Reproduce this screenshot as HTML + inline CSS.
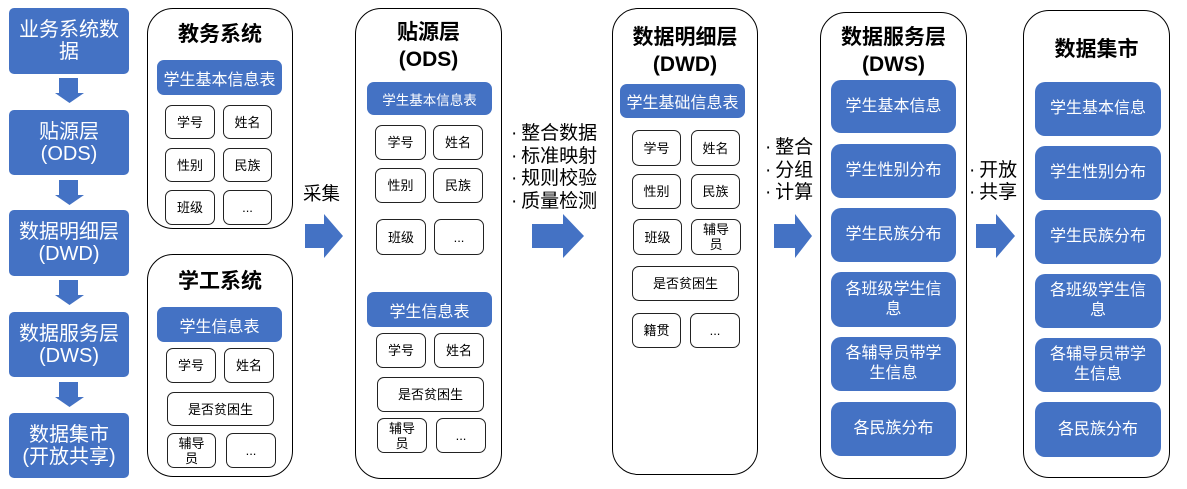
<!DOCTYPE html>
<html><head><meta charset="utf-8">
<style>
*{margin:0;padding:0;box-sizing:border-box}
body{width:1187px;height:489px;background:#fff;position:relative;overflow:hidden;font-family:"Liberation Sans","Noto Sans CJK SC",sans-serif;color:#000}
.a{position:absolute}
.b{position:absolute;background:#4472C4;color:#fff;display:flex;align-items:center;justify-content:center;text-align:center}
.L{border-radius:5px;font-size:20px;line-height:22px}
.H{border-radius:7px;font-size:16px}
.D{border-radius:10px;font-size:16px;line-height:20px}
.o{position:absolute;border:1.6px solid #000;border-radius:26px}
.s{position:absolute;border:1.5px solid #222;border-radius:7px;display:flex;align-items:center;justify-content:center;text-align:center;font-size:13px;line-height:15px}
.t{position:absolute;font-weight:bold;font-size:21px;text-align:center;line-height:27px}
.m{position:absolute;font-size:19px;line-height:22.5px;white-space:nowrap}
</style></head><body>

<!-- left column -->
<div class="b L" style="left:9px;top:8px;width:120px;height:66px">业务系统数<br>据</div>
<div class="b L" style="left:9px;top:110px;width:120px;height:65px">贴源层<br>(ODS)</div>
<div class="b L" style="left:9px;top:210px;width:120px;height:66px">数据明细层<br>(DWD)</div>
<div class="b L" style="left:9px;top:312px;width:120px;height:65px">数据服务层<br>(DWS)</div>
<div class="b L" style="left:9px;top:413px;width:120px;height:65px">数据集市<br>(开放共享)</div>

<svg class="a" style="left:0;top:0" width="1187" height="489">
<g fill="#4472C4">
<polygon points="59,78 78,78 78,93 84,93 69.5,103 55,93 59,93"/>
<polygon points="59,180 78,180 78,195 84,195 69.5,205 55,195 59,195"/>
<polygon points="59,280 78,280 78,295 84,295 69.5,305 55,295 59,295"/>
<polygon points="59,382 78,382 78,397 84,397 69.5,407 55,397 59,397"/>
<polygon points="305,224 324,224 324,214 343,236 324,258 324,248 305,248"/>
<polygon points="532,224 563,224 563,214 584,236 563,258 563,248 532,248"/>
<polygon points="774,224 795,224 795,214 812,236 795,258 795,248 774,248"/>
<polygon points="976,224 996,224 996,214 1015,236 996,258 996,248 976,248"/>
</g>
</svg>

<!-- 教务系统 -->
<div class="o" style="left:147px;top:8px;width:146px;height:221px"></div>
<div class="t" style="left:147px;top:21px;width:146px">教务系统</div>
<div class="b H" style="left:157px;top:60px;width:125px;height:35px">学生基本信息表</div>
<div class="s" style="left:165px;top:105px;width:50px;height:34px">学号</div>
<div class="s" style="left:223px;top:105px;width:49px;height:34px">姓名</div>
<div class="s" style="left:165px;top:148px;width:50px;height:34px">性别</div>
<div class="s" style="left:223px;top:148px;width:49px;height:34px">民族</div>
<div class="s" style="left:165px;top:190px;width:50px;height:35px">班级</div>
<div class="s" style="left:223px;top:190px;width:49px;height:35px">...</div>

<!-- 学工系统 -->
<div class="o" style="left:147px;top:254px;width:146px;height:223px"></div>
<div class="t" style="left:147px;top:268px;width:146px">学工系统</div>
<div class="b H" style="left:157px;top:307px;width:125px;height:35px">学生信息表</div>
<div class="s" style="left:166px;top:348px;width:50px;height:35px">学号</div>
<div class="s" style="left:224px;top:348px;width:50px;height:35px">姓名</div>
<div class="s" style="left:167px;top:392px;width:107px;height:34px">是否贫困生</div>
<div class="s" style="left:167px;top:433px;width:49px;height:35px">辅导<br>员</div>
<div class="s" style="left:226px;top:433px;width:50px;height:35px">...</div>

<div class="m" style="left:303px;top:183px;font-size:18.5px">采集</div>

<!-- ODS -->
<div class="o" style="left:355px;top:8px;width:147px;height:471px"></div>
<div class="t" style="left:355px;top:19px;width:147px">贴源层<br>(ODS)</div>
<div class="b H" style="left:367px;top:82px;width:125px;height:33px;font-size:13.5px">学生基本信息表</div>
<div class="s" style="left:375px;top:125px;width:51px;height:35px">学号</div>
<div class="s" style="left:433px;top:125px;width:50px;height:35px">姓名</div>
<div class="s" style="left:375px;top:168px;width:51px;height:35px">性别</div>
<div class="s" style="left:433px;top:168px;width:50px;height:35px">民族</div>
<div class="s" style="left:376px;top:219px;width:50px;height:36px">班级</div>
<div class="s" style="left:434px;top:219px;width:50px;height:36px">...</div>
<div class="b H" style="left:367px;top:292px;width:125px;height:35px">学生信息表</div>
<div class="s" style="left:376px;top:333px;width:50px;height:35px">学号</div>
<div class="s" style="left:434px;top:333px;width:50px;height:35px">姓名</div>
<div class="s" style="left:377px;top:377px;width:107px;height:35px">是否贫困生</div>
<div class="s" style="left:377px;top:418px;width:50px;height:35px">辅导<br>员</div>
<div class="s" style="left:436px;top:418px;width:50px;height:35px">...</div>

<div class="m" style="left:511px;top:123px">·&thinsp;整合数据<br>·&thinsp;标准映射<br>·&thinsp;规则校验<br>·&thinsp;质量检测</div>

<!-- DWD -->
<div class="o" style="left:612px;top:8px;width:146px;height:467px"></div>
<div class="t" style="left:612px;top:24px;width:146px">数据明细层<br>(DWD)</div>
<div class="b H" style="left:620px;top:84px;width:125px;height:34px">学生基础信息表</div>
<div class="s" style="left:632px;top:130px;width:49px;height:36px">学号</div>
<div class="s" style="left:691px;top:130px;width:49px;height:36px">姓名</div>
<div class="s" style="left:632px;top:174px;width:49px;height:35px">性别</div>
<div class="s" style="left:691px;top:174px;width:49px;height:35px">民族</div>
<div class="s" style="left:633px;top:219px;width:49px;height:36px">班级</div>
<div class="s" style="left:691px;top:219px;width:50px;height:36px">辅导<br>员</div>
<div class="s" style="left:632px;top:266px;width:107px;height:35px">是否贫困生</div>
<div class="s" style="left:632px;top:313px;width:49px;height:35px">籍贯</div>
<div class="s" style="left:690px;top:313px;width:50px;height:35px">...</div>

<div class="m" style="left:765px;top:137px;font-size:19px;line-height:22.5px">·&thinsp;整合<br>·&thinsp;分组<br>·&thinsp;计算</div>

<!-- DWS -->
<div class="o" style="left:820px;top:12px;width:147px;height:467px"></div>
<div class="t" style="left:820px;top:24px;width:147px">数据服务层<br>(DWS)</div>
<div class="b D" style="left:831px;top:80px;width:125px;height:53px">学生基本信息</div>
<div class="b D" style="left:831px;top:144px;width:125px;height:54px">学生性别分布</div>
<div class="b D" style="left:831px;top:208px;width:125px;height:54px">学生民族分布</div>
<div class="b D" style="left:831px;top:272px;width:125px;height:55px">各班级学生信<br>息</div>
<div class="b D" style="left:831px;top:337px;width:125px;height:54px">各辅导员带学<br>生信息</div>
<div class="b D" style="left:831px;top:402px;width:125px;height:54px">各民族分布</div>

<div class="m" style="left:969px;top:160px;font-size:19px;line-height:22px">·&thinsp;开放<br>·&thinsp;共享</div>

<!-- 数据集市 -->
<div class="o" style="left:1023px;top:10px;width:147px;height:468px"></div>
<div class="t" style="left:1023px;top:36px;width:147px">数据集市</div>
<div class="b D" style="left:1035px;top:82px;width:126px;height:54px">学生基本信息</div>
<div class="b D" style="left:1035px;top:146px;width:126px;height:54px">学生性别分布</div>
<div class="b D" style="left:1035px;top:210px;width:126px;height:54px">学生民族分布</div>
<div class="b D" style="left:1035px;top:274px;width:126px;height:54px">各班级学生信<br>息</div>
<div class="b D" style="left:1035px;top:338px;width:126px;height:54px">各辅导员带学<br>生信息</div>
<div class="b D" style="left:1035px;top:402px;width:126px;height:55px">各民族分布</div>

</body></html>
